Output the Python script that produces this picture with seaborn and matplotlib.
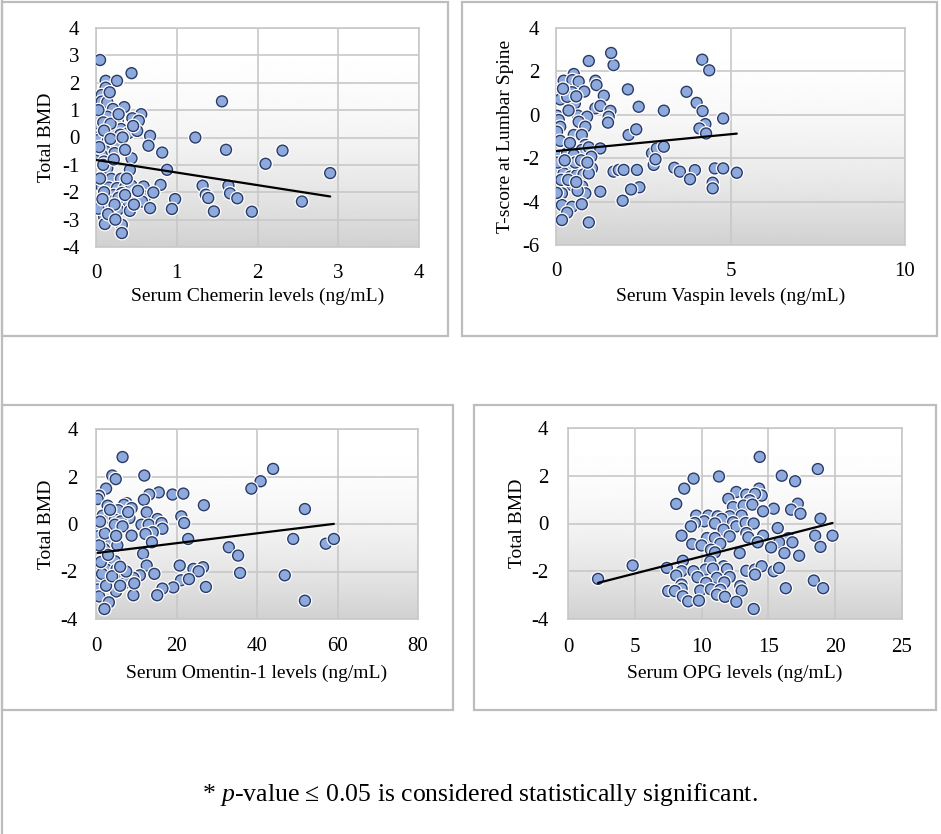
import numpy as np
import matplotlib
matplotlib.use('Agg')
import matplotlib.pyplot as plt
import matplotlib.patheffects as pe
from matplotlib.patches import Rectangle
from matplotlib.lines import Line2D
import seaborn as sns

# ── Data ──────────────────────────────────────────────────────────────────────
chem_x = [0.05, 0.44, 0.12, 0.26, 0.12, 0.07, 0.07, 0.14, 0.35, 0.21, 0.05, 0.14, 0.56,
          0.27, 0.45, 0.53, 0.05, 0.15, 0.25, 0.31, 0.40, 0.51, 0.07, 0.20, 0.30, 0.67,
          1.23, 0.03, 0.14, 0.26, 0.65, 0.12, 0.23, 0.82, 0.07, 0.00, 0.10, 0.44, 0.14,
          0.42, 0.88, 0.19, 0.31, 0.07, 0.16, 0.26, 0.36, 0.44, 0.59, 0.80, 0.12, 0.22,
          0.32, 0.49, 0.61, 0.71, 0.07, 0.18, 0.40, 0.57, 0.98, 0.14, 0.27, 0.42, 0.67,
          0.94, 0.10, 0.20, 0.11, 0.32, 0.32,
          1.56, 1.61, 2.31, 2.10, 2.90, 1.32, 1.64, 1.36, 1.39, 1.66, 1.75, 2.55, 1.46, 1.93,
          0.03, 0.09, 0.18, 0.10, 0.04, 0.18, 0.33, 0.09, 0.22, 0.05, 0.10, 0.28, 0.03,
          0.23, 0.36, 0.15, 0.47, 0.52, 0.38, 0.17, 0.28, 0.08, 0.24, 0.46, 0.36]
chem_y = [2.83, 2.35, 2.07, 2.07, 1.82, 1.55, 1.31, 1.29, 1.11, 1.04, 0.82, 0.76, 0.85,
          0.64, 0.70, 0.61, 0.46, 0.36, 0.43, 0.31, 0.16, 0.24, 0.10, 0.10, 0.10, 0.06,
          0.00, -0.09, -0.17, -0.30, -0.30, -0.51, -0.57, -0.55, -0.64, -0.85, -0.88, -0.76, -1.12,
          -1.18, -1.18, -1.51, -1.51, -1.79, -1.83, -1.85, -1.83, -1.76, -1.79, -1.73, -2.10, -2.10,
          -2.03, -2.03, -2.16, -2.01, -2.34, -2.34, -2.34, -2.34, -2.25, -2.61, -2.64, -2.68, -2.58,
          -2.61, -2.89, -2.95, -3.16, -3.19, -3.49,
          1.32, -0.45, -0.48, -0.96, -1.30, -1.76, -1.76, -2.09, -2.21, -2.04, -2.22, -2.34, -2.70, -2.71,
          1.00, 0.55, 0.50, 0.25, -0.35, -0.05, 0.00, -1.00, -0.80, -1.50, -2.00, -2.20, -2.60,
          -2.45, -2.10, -2.80, -2.45, -1.95, -1.50, 1.65, 0.85, -2.25, -3.00, 0.42, -0.45]
chem_fit = (-0.82, -0.46)   # intercept, slope

vasp_x = [0.94, 1.65, 0.51, 0.22, 0.47, 0.65, 1.13, 1.16, 0.03, 0.27, 0.46, 0.81, 2.06,
          1.37, 0.12, 0.54, 0.32, 1.13, 1.27, 2.37, 3.09, 1.56, 1.51, 1.49, 0.03, 0.08,
          0.12, 0.03, 0.63, 0.89, 0.65, 0.84, 0.51, 0.74, 2.08, 2.30, 0.84, 0.74, 0.94,
          1.27, 0.03, 0.32, 0.51, 1.01, 2.75, 2.89, 3.09, 2.80, 2.85, 0.08, 0.27, 0.46,
          0.65, 0.84, 1.03, 0.03, 0.22, 0.41, 0.60, 0.79, 0.94, 1.65, 1.80, 1.94, 2.32,
          0.03, 0.46, 0.75, 0.17, 0.84, 1.27, 2.18, 2.39, 1.91, 0.17, 0.46, 0.74, 0.32,
          0.17, 0.94,
          1.58, 4.19, 4.39, 3.74, 4.03, 4.20, 4.79, 4.28, 4.11, 4.30, 3.39, 3.55, 3.98,
          4.55, 4.79, 5.18, 3.84, 4.49, 4.49, 2.15,
          0.05, 0.15, 0.35, 0.55, 0.25, 0.62, 0.12, 0.02, 0.36, 0.58, 0.20, 0.72, 0.40,
          0.90, 0.58]
vasp_y = [2.48, 2.29, 1.88, 1.57, 1.60, 1.53, 1.57, 1.37, 1.07, 1.14, 1.04, 1.07, 1.17,
          0.88, 0.71, 0.53, 0.83, 0.30, 0.41, 0.37, 0.19, 0.18, -0.09, -0.36, -0.04, -0.24,
          -0.55, -0.78, -0.04, -0.09, -0.32, -0.55, -0.93, -0.93, -0.93, -0.67, -1.39, -1.62, -1.50,
          -1.55, -1.93, -1.77, -1.85, -1.93, -1.77, -1.55, -1.47, -2.31, -2.05, -2.47, -2.54, -2.39,
          -2.54, -2.62, -2.47, -2.75, -2.70, -2.85, -2.78, -2.75, -2.70, -2.62, -2.54, -2.54, -2.54,
          -3.24, -3.24, -3.30, -3.62, -3.62, -3.54, -3.47, -3.34, -3.96, -4.16, -4.24, -4.12, -4.51,
          -4.85, -4.96,
          2.85, 2.54, 2.05, 1.06, 0.55, 0.17, -0.17, -0.43, -0.63, -0.86, -2.44, -2.62, -2.55,
          -2.47, -2.47, -2.67, -2.97, -3.13, -3.39, -3.44,
          -2.20, -3.00, -3.00, -2.20, -2.10, -3.50, -1.20, -3.60, 0.20, 0.85, 1.20, -2.10, -1.30,
          -2.20, -3.10]
vasp_fit = (-1.67, 0.155)

omen_x = [6.6, 44.0, 4.05, 4.9, 12.0, 40.9, 38.6, 2.5, 0.74, 0.4, 15.6, 19.0, 21.7,
          13.2, 11.9, 7.6, 6.95, 2.9, 8.85, 26.8, 51.9, 5.5, 12.6, 1.65, 3.5, 4.7,
          8.3, 6.2, 15.3, 21.2, 21.9, 0.66, 4.7, 6.6, 11.3, 13.1, 16.3, 16.5, 14.1,
          12.3, 0.4, 8.85, 22.9, 49.0, 13.9, 3.7, 5.3, 57.1, 59.1, 33.0, 2.0, 11.7,
          35.3, 4.7, 12.6, 20.8, 24.2, 26.6, 25.5, 0.6, 2.6, 5.1, 35.8, 14.5, 46.9,
          7.0, 10.9, 9.3, 21.1, 23.1, 1.0, 3.5, 7.2, 27.3, 19.2, 16.5, 0.4, 5.0,
          9.3, 15.2, 0.8, 3.2, 51.9, 2.1,
          1.5, 2.5, 4.0, 6.0, 1.2, 3.0, 0.8, 2.2, 5.0, 7.5, 8.0, 3.5, 1.0, 6.0, 9.5]
omen_y = [2.82, 2.32, 2.04, 1.89, 2.04, 1.80, 1.49, 1.49, 1.19, 1.05, 1.33, 1.24, 1.28,
          1.24, 1.02, 0.88, 0.81, 0.77, 0.67, 0.79, 0.63, 0.58, 0.49, 0.35, 0.25, 0.18,
          0.25, 0.11, 0.21, 0.32, 0.04, -0.03, -0.03, -0.10, -0.03, -0.03, 0.04, -0.20, -0.35,
          -0.42, -0.52, -0.49, -0.63, -0.63, -0.77, -0.83, -0.90, -0.83, -0.63, -0.98, -1.05, -1.25,
          -1.33, -1.57, -1.75, -1.75, -1.89, -1.82, -1.99, -1.92, -1.92, -1.92, -2.06, -2.10, -2.16,
          -2.10, -2.16, -2.27, -2.37, -2.32, -2.34, -2.48, -2.48, -2.65, -2.67, -2.72, -2.76, -2.84,
          -3.00, -3.00, -3.05, -3.30, -3.23, -3.58,
          -2.10, -2.60, -2.20, -2.60, -1.60, -1.30, -0.90, -0.40, -0.50, -2.00, 0.50, 0.60, 0.10,
          -1.80, -2.50]
omen_fit = (-1.224, 0.0208)

opg_x = [14.35, 18.7, 11.3, 9.4, 16.0, 17.0, 8.7, 14.3, 12.6, 13.35, 14.5, 14.0, 12.0,
         13.6, 8.1, 17.2, 12.35, 13.15, 13.8, 15.4, 14.6, 16.7, 17.4, 9.6, 10.5, 11.2,
         12.1, 13.0, 10.2, 9.5, 9.2, 11.5, 12.35, 11.0, 12.6, 13.3, 13.9, 18.9, 11.65,
         15.7, 8.5, 10.4, 11.0, 12.1, 13.35, 13.5, 14.6, 18.5, 19.8, 16.5, 9.3, 10.0,
         11.4, 14.2, 15.8, 16.8, 15.2, 18.9, 10.7, 11.0, 12.85, 16.2, 17.3, 4.84, 7.4,
         8.6, 10.65, 11.65, 11.9, 10.3, 10.85, 8.5, 9.4, 13.35, 14.0, 14.5, 14.0, 15.4,
         15.8, 9.7, 11.15, 12.1, 8.1, 2.25, 18.4, 10.35, 11.7, 8.5, 12.9, 8.5, 16.3,
         19.1, 7.5, 8.0, 9.9, 10.7, 11.4, 13.0, 8.6, 11.15, 11.75, 9.0, 9.8, 12.6, 13.9]
opg_y = [2.79, 2.28, 1.97, 1.88, 2.00, 1.77, 1.46, 1.46, 1.32, 1.21, 1.17, 1.24, 1.03,
         0.97, 0.82, 0.83, 0.69, 0.75, 0.79, 0.62, 0.51, 0.58, 0.41, 0.33, 0.33, 0.30,
         0.30, 0.33, 0.09, 0.02, -0.12, 0.19, 0.05, 0.00, -0.12, 0.02, 0.00, 0.20, -0.26,
         -0.19, -0.51, -0.61, -0.61, -0.54, -0.40, -0.58, -0.51, -0.51, -0.51, -0.61, -0.86, -0.92,
         -0.85, -0.79, -0.79, -0.79, -1.00, -0.98, -1.10, -1.21, -1.24, -1.24, -1.35, -1.76, -1.86,
         -1.56, -1.59, -1.79, -1.91, -1.93, -1.89, -2.00, -2.00, -1.98, -1.93, -1.79, -2.14, -2.00,
         -1.86, -2.25, -2.28, -2.24, -2.18, -2.32, -2.39, -2.49, -2.47, -2.56, -2.62, -2.73, -2.71,
         -2.71, -2.83, -2.83, -2.81, -2.76, -2.78, -2.81, -3.05, -2.98, -3.07, -3.26, -3.23, -3.28, -3.58]
opg_fit = (-2.81, 0.143)

x_ticks = {'chem': [0, 1, 2, 3, 4], 'vasp': [0, 5, 10],
           'omen': [0, 20, 40, 60, 80], 'opg': [0, 5, 10, 15, 20, 25]}
y_ticks = {'chem': [-4, -3, -2, -1, 0, 1, 2, 3, 4], 'vasp': [-6, -4, -2, 0, 2, 4],
           'omen': [-4, -2, 0, 2, 4], 'opg': [-4, -2, 0, 2, 4]}
x_labels = {'chem': 'Serum Chemerin levels (ng/mL)', 'vasp': 'Serum Vaspin levels (ng/mL)',
            'omen': 'Serum Omentin-1 levels (ng/mL)', 'opg': 'Serum OPG levels (ng/mL)'}
y_labels = {'chem': 'Total BMD', 'vasp': 'T-score at Lumbar Spine',
            'omen': 'Total BMD', 'opg': 'Total BMD'}
footnote = r'* $\mathit{p}$-value ≤ 0.05 is considered statistically significant.'

# ── Styling ───────────────────────────────────────────────────────────────────
sns.set_theme(style='white')
plt.rcParams['font.family'] = ['Liberation Serif', 'DejaVu Serif']
plt.rcParams['mathtext.fontset'] = 'custom'
plt.rcParams['mathtext.rm'] = 'Liberation Serif'
plt.rcParams['mathtext.it'] = 'Liberation Serif:italic'
plt.rcParams['axes.unicode_minus'] = False

FILL = '#8eaadc'
EDGE = '#2b3b68'
GRID = '#c8c8c8'
FRAME = '#bdbdbd'

W, H = 941, 834
fig = plt.figure(figsize=(W / 100, H / 100), dpi=100)
fig.patch.set_facecolor('white')


def px_box(x0, y0, x1, y1):
    return [x0 / W, 1 - y1 / H, (x1 - x0) / W, (y1 - y0) / H]


def panel_frame(x0, y0, x1, y1):
    fig.add_artist(Rectangle((x0 / W, 1 - y1 / H), (x1 - x0) / W, (y1 - y0) / H,
                             transform=fig.transFigure, fill=False,
                             edgecolor=FRAME, linewidth=1.6))


def draw_panel(key, box, xs, ys, fit, ylab_x, xlab_y, tick_pad):
    ax = fig.add_axes(px_box(*box))
    # Excel-like plot-area gradient: white at the top, light grey at the bottom
    t = np.linspace(0, 1, 256)[:, None]
    ax.imshow(1 - 0.18 * t ** 2, extent=[0, 1, 0, 1], transform=ax.transAxes,
              aspect='auto', cmap='gray', vmin=0, vmax=1, zorder=0)

    sns.scatterplot(x=xs, y=ys, ax=ax, s=62, color=FILL, edgecolor=EDGE,
                    linewidth=1.0, zorder=3, legend=False)
    ax.collections[-1].set_path_effects([pe.withStroke(linewidth=2.8, foreground='white')])

    lx = np.array([min(xs), max(xs)])
    sns.lineplot(x=lx, y=fit[0] + fit[1] * lx, ax=ax, color='black',
                 linewidth=1.6, zorder=4)

    xt, yt = x_ticks[key], y_ticks[key]
    ax.set_xlim(xt[0], xt[-1])
    ax.set_ylim(yt[0], yt[-1])
    ax.set_xticks(xt)
    ax.set_yticks(yt)
    ax.set_xticklabels([str(v) for v in xt])
    ax.set_yticklabels([str(v) for v in yt])
    ax.tick_params(length=0, pad=tick_pad, labelsize=15, colors='black')
    ax.grid(True, color=GRID, linewidth=1.2)
    ax.set_axisbelow(True)
    for sp in ax.spines.values():
        sp.set_color(GRID)
        sp.set_linewidth(1.2)

    ax.set_xlabel(x_labels[key], fontsize=14, color='black')
    ax.set_ylabel(y_labels[key], fontsize=14, color='black')
    ax.xaxis.set_label_coords(0.5, xlab_y)
    ax.yaxis.set_label_coords(ylab_x, 0.5)
    return ax


# panel frames and outer left border
panel_frame(2, 2, 448, 336)
panel_frame(462, 2, 937, 336)
panel_frame(2, 405, 453, 710)
panel_frame(474, 405, 936, 710)
fig.add_artist(Line2D([2 / W, 2 / W], [0, 1], transform=fig.transFigure,
                      color=FRAME, linewidth=1.6))

draw_panel('chem', (96, 28, 419, 247), chem_x, chem_y, chem_fit, -0.128, -0.185, 12)
draw_panel('vasp', (556, 28, 905, 245), vasp_x, vasp_y, vasp_fit, -0.12, -0.196, 12)
draw_panel('omen', (96, 429, 418, 619), omen_x, omen_y, omen_fit, -0.128, -0.24, 13)
draw_panel('opg', (568, 428, 902, 619), opg_x, opg_y, opg_fit, -0.127, -0.24, 14)

fig.text(480 / W, 1 - 795 / H, footnote, ha='center', va='center',
         fontsize=18.5, color='black')

fig.savefig('out.png', dpi=100, facecolor='white')
